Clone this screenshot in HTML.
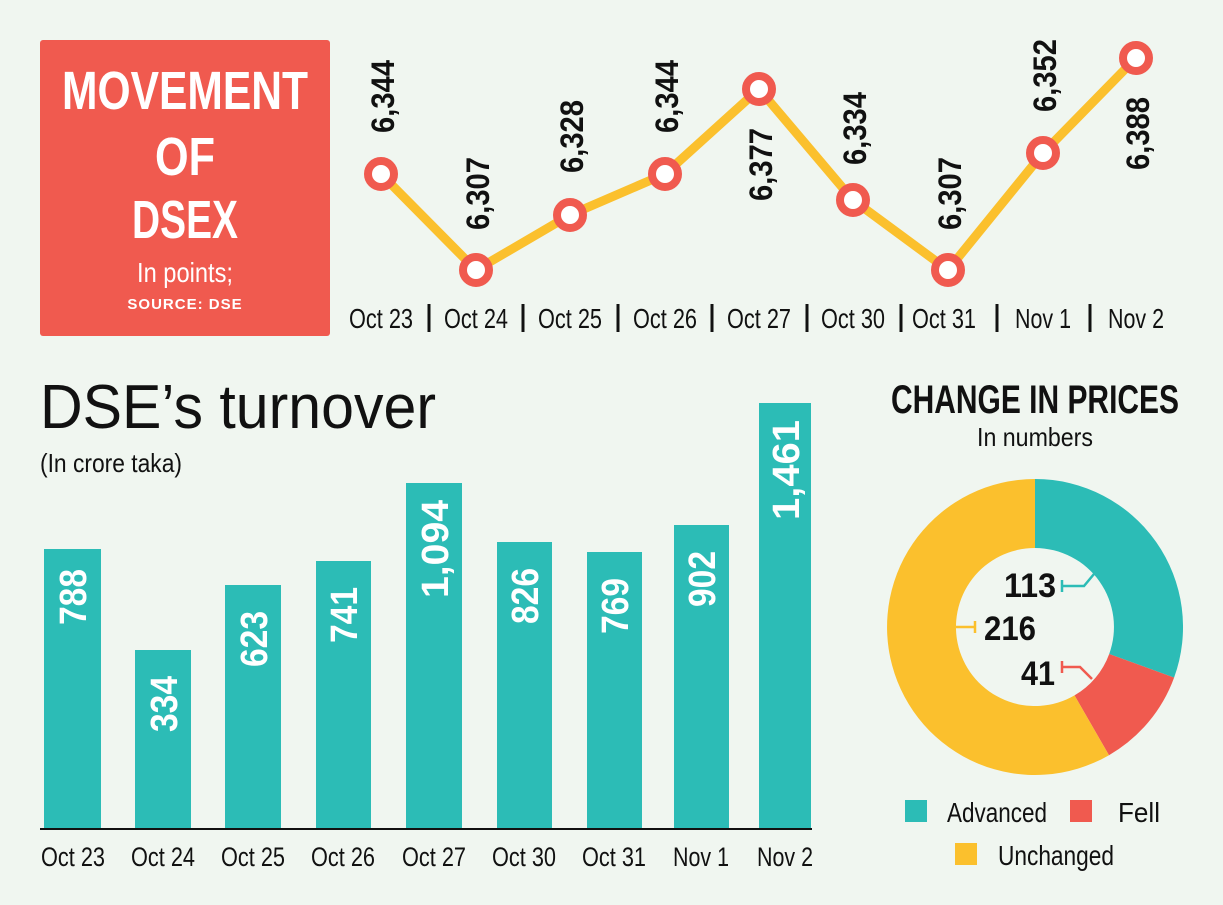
<!DOCTYPE html>
<html><head><meta charset="utf-8"><style>
html,body{margin:0;padding:0;background:#f0f6f0;}
svg{display:block}
text{font-family:"Liberation Sans Narrow","Liberation Sans",sans-serif;}
</style></head><body>
<svg width="1223" height="905" viewBox="0 0 1223 905" xmlns="http://www.w3.org/2000/svg">
<rect width="1223" height="905" fill="#f0f6f0"/>
<rect x="40" y="40" width="290" height="296" rx="3" fill="#f05a4f"/>
<g fill="#fff" font-weight="bold" text-anchor="middle">
<text x="185" y="109" font-size="54" textLength="246" lengthAdjust="spacingAndGlyphs">MOVEMENT</text>
<text x="185" y="175" font-size="54" textLength="60" lengthAdjust="spacingAndGlyphs">OF</text>
<text x="185" y="238" font-size="54" textLength="106" lengthAdjust="spacingAndGlyphs">DSEX</text>
<text x="185" y="282" font-size="28" font-weight="normal" textLength="96" lengthAdjust="spacingAndGlyphs">In points;</text>
<text x="185" y="309" font-size="15" style="font-family:'Liberation Sans',sans-serif" letter-spacing="1">SOURCE: DSE</text>
</g>
<polyline points="381,174 476,270 570,215 665,174 759,89 853,200 948,270 1043,153 1136,58" fill="none" stroke="#fbc02d" stroke-width="9" stroke-linejoin="round"/>
<g fill="#fff" stroke="#f05a4f" stroke-width="8">
<circle cx="381" cy="174" r="13"/><circle cx="476" cy="270" r="13"/><circle cx="570" cy="215" r="13"/>
<circle cx="665" cy="174" r="13"/><circle cx="759" cy="89" r="13"/><circle cx="853" cy="200" r="13"/>
<circle cx="948" cy="270" r="13"/><circle cx="1043" cy="153" r="13"/><circle cx="1136" cy="58" r="13"/>
</g>
<g font-size="32" font-weight="bold" fill="#111">
<text transform="translate(394,133) rotate(-90)" textLength="73" lengthAdjust="spacingAndGlyphs">6,344</text>
<text transform="translate(489,230) rotate(-90)" textLength="73" lengthAdjust="spacingAndGlyphs">6,307</text>
<text transform="translate(583,173) rotate(-90)" textLength="73" lengthAdjust="spacingAndGlyphs">6,328</text>
<text transform="translate(678,133) rotate(-90)" textLength="73" lengthAdjust="spacingAndGlyphs">6,344</text>
<text transform="translate(772,201) rotate(-90)" textLength="73" lengthAdjust="spacingAndGlyphs">6,377</text>
<text transform="translate(866,165) rotate(-90)" textLength="73" lengthAdjust="spacingAndGlyphs">6,334</text>
<text transform="translate(961,230) rotate(-90)" textLength="73" lengthAdjust="spacingAndGlyphs">6,307</text>
<text transform="translate(1056,112) rotate(-90)" textLength="73" lengthAdjust="spacingAndGlyphs">6,352</text>
<text transform="translate(1149,170) rotate(-90)" textLength="73" lengthAdjust="spacingAndGlyphs">6,388</text>
</g>
<g font-size="28" fill="#111" text-anchor="middle">
<text x="381" y="328" textLength="64" lengthAdjust="spacingAndGlyphs">Oct 23</text>
<text x="476" y="328" textLength="64" lengthAdjust="spacingAndGlyphs">Oct 24</text>
<text x="570" y="328" textLength="64" lengthAdjust="spacingAndGlyphs">Oct 25</text>
<text x="665" y="328" textLength="64" lengthAdjust="spacingAndGlyphs">Oct 26</text>
<text x="759" y="328" textLength="64" lengthAdjust="spacingAndGlyphs">Oct 27</text>
<text x="853" y="328" textLength="64" lengthAdjust="spacingAndGlyphs">Oct 30</text>
<text x="944" y="328" textLength="64" lengthAdjust="spacingAndGlyphs">Oct 31</text>
<text x="1043" y="328" textLength="56" lengthAdjust="spacingAndGlyphs">Nov 1</text>
<text x="1136" y="328" textLength="56" lengthAdjust="spacingAndGlyphs">Nov 2</text>
</g>
<g stroke="#111" stroke-width="3">
<line x1="429" y1="304" x2="429" y2="332"/><line x1="523" y1="304" x2="523" y2="332"/>
<line x1="618" y1="304" x2="618" y2="332"/><line x1="712" y1="304" x2="712" y2="332"/>
<line x1="807" y1="304" x2="807" y2="332"/><line x1="901" y1="304" x2="901" y2="332"/>
<line x1="997" y1="304" x2="997" y2="332"/><line x1="1090" y1="304" x2="1090" y2="332"/>
</g>
<text x="40" y="428" font-size="62" fill="#111" textLength="396" lengthAdjust="spacingAndGlyphs">DSE’s turnover</text>
<text x="40" y="472" font-size="26" fill="#111" textLength="142" lengthAdjust="spacingAndGlyphs">(In crore taka)</text>
<g fill="#2cbcb6">
<rect x="44" y="549" width="57" height="280"/><rect x="135" y="650" width="56" height="179"/>
<rect x="225" y="585" width="56" height="244"/><rect x="316" y="561" width="55" height="268"/>
<rect x="406" y="483" width="56" height="346"/><rect x="497" y="542" width="55" height="287"/>
<rect x="587" y="552" width="55" height="277"/><rect x="674" y="525" width="55" height="304"/>
<rect x="759" y="403" width="52" height="426"/>
</g>
<line x1="40" y1="829" x2="812" y2="829" stroke="#111" stroke-width="2"/>
<g font-size="38" font-weight="bold" fill="#fff">
<text transform="translate(86,625) rotate(-90)" textLength="56" lengthAdjust="spacingAndGlyphs">788</text>
<text transform="translate(177,732) rotate(-90)" textLength="56" lengthAdjust="spacingAndGlyphs">334</text>
<text transform="translate(267,667) rotate(-90)" textLength="56" lengthAdjust="spacingAndGlyphs">623</text>
<text transform="translate(357,643) rotate(-90)" textLength="56" lengthAdjust="spacingAndGlyphs">741</text>
<text transform="translate(448,598) rotate(-90)" textLength="98" lengthAdjust="spacingAndGlyphs">1,094</text>
<text transform="translate(538,624) rotate(-90)" textLength="56" lengthAdjust="spacingAndGlyphs">826</text>
<text transform="translate(628,634) rotate(-90)" textLength="56" lengthAdjust="spacingAndGlyphs">769</text>
<text transform="translate(715,607) rotate(-90)" textLength="56" lengthAdjust="spacingAndGlyphs">902</text>
<text transform="translate(799,520) rotate(-90)" textLength="100" lengthAdjust="spacingAndGlyphs">1,461</text>
</g>
<g font-size="27" fill="#111" text-anchor="middle">
<text x="73" y="866" textLength="64" lengthAdjust="spacingAndGlyphs">Oct 23</text>
<text x="163" y="866" textLength="64" lengthAdjust="spacingAndGlyphs">Oct 24</text>
<text x="253" y="866" textLength="64" lengthAdjust="spacingAndGlyphs">Oct 25</text>
<text x="343" y="866" textLength="64" lengthAdjust="spacingAndGlyphs">Oct 26</text>
<text x="434" y="866" textLength="64" lengthAdjust="spacingAndGlyphs">Oct 27</text>
<text x="524" y="866" textLength="64" lengthAdjust="spacingAndGlyphs">Oct 30</text>
<text x="614" y="866" textLength="64" lengthAdjust="spacingAndGlyphs">Oct 31</text>
<text x="701" y="866" textLength="56" lengthAdjust="spacingAndGlyphs">Nov 1</text>
<text x="785" y="866" textLength="56" lengthAdjust="spacingAndGlyphs">Nov 2</text>
</g>
<text x="1035" y="413" font-size="40" font-weight="bold" fill="#111" text-anchor="middle" textLength="288" lengthAdjust="spacingAndGlyphs">CHANGE IN PRICES</text>
<text x="1035" y="446" font-size="26" fill="#111" text-anchor="middle" textLength="116" lengthAdjust="spacingAndGlyphs">In numbers</text>
<g transform="translate(1035,627)">
<path d="M0,-148 A148,148 0 0 1 139.1,50.6 L74.2,27.0 A79,79 0 0 0 0,-79 Z" fill="#2cbcb6"/>
<path d="M139.1,50.6 A148,148 0 0 1 74,128.2 L39.5,68.4 A79,79 0 0 0 74.2,27.0 Z" fill="#f05a4f"/>
<path d="M74,128.2 A148,148 0 1 1 0,-148 L0,-79 A79,79 0 1 0 39.5,68.4 Z" fill="#fbc02d"/>
</g>
<g font-size="34" font-weight="bold" fill="#111">
<text x="1004" y="597" textLength="52" lengthAdjust="spacingAndGlyphs">113</text>
<text x="984" y="640" textLength="52" lengthAdjust="spacingAndGlyphs">216</text>
<text x="1021" y="685" textLength="34" lengthAdjust="spacingAndGlyphs">41</text>
</g>
<g fill="none" stroke-width="2.5">
<path d="M1062,586 H1084 L1094,574 M1062,580 V592" stroke="#2cbcb6"/>
<path d="M956,627 H976 M975,621 V633" stroke="#fbc02d"/>
<path d="M1062,667 H1080 L1092,679 M1062,661 V673" stroke="#f05a4f"/>
</g>
<rect x="905" y="800" width="22" height="22" fill="#2cbcb6"/>
<rect x="1070" y="800" width="22" height="22" fill="#f05a4f"/>
<rect x="955" y="843" width="22" height="22" fill="#fbc02d"/>
<g font-size="28" fill="#111">
<text x="947" y="822" textLength="100" lengthAdjust="spacingAndGlyphs">Advanced</text>
<text x="1118" y="822" textLength="42" lengthAdjust="spacingAndGlyphs">Fell</text>
<text x="998" y="865" textLength="116" lengthAdjust="spacingAndGlyphs">Unchanged</text>
</g>
</svg>
</body></html>
